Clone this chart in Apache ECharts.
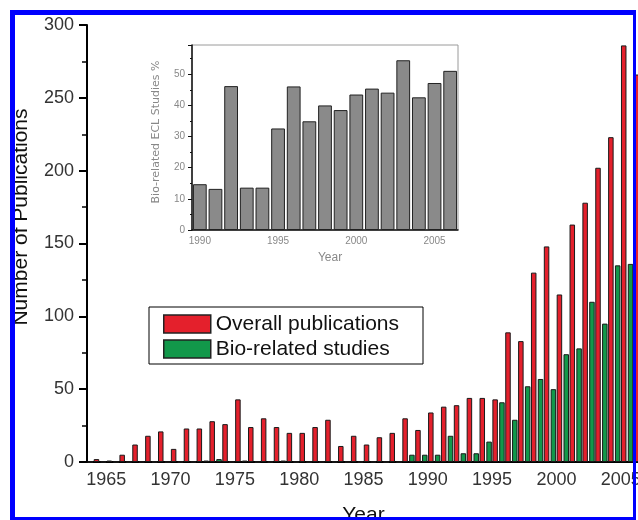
<!DOCTYPE html>
<html>
<head>
<meta charset="utf-8">
<script src="https://cdn.jsdelivr.net/npm/echarts@6/dist/echarts.min.js"></script>
<style>
  html, body { margin: 0; padding: 0; background: #fff; }
  #chart { width: 638px; height: 520px; }
</style>
</head>
<body>
<div id="chart"></div>
<script>
// Publication years on the main chart
const years = ['1964','1965','1966','1967','1968','1969','1970','1971','1972','1973','1974',
  '1975','1976','1977','1978','1979','1980','1981','1982','1983','1984','1985','1986','1987',
  '1988','1989','1990','1991','1992','1993','1994','1995','1996','1997','1998','1999','2000',
  '2001','2002','2003','2004','2005','2006'];

// Yearly counts of ECL publications
const overallPubs = [2, 1, 5, 12, 18, 21, 9, 23, 23, 28, 26,
  43, 24, 30, 24, 20, 20, 24, 29, 11, 18, 12, 17, 20,
  30, 22, 34, 38, 39, 44, 44, 43, 89, 83, 130, 148, 115,
  163, 178, 202, 223, 286, 266];

// Yearly counts of bio-related ECL studies
const bioPubs = [0, 0, 0, 0, 0, 0, 0, 0, 0, 1, 2,
  0, 1, 0, 0, 1, 0, 0, 0, 0, 0, 0, 0, 0,
  0, 5, 5, 5, 18, 6, 6, 14, 41, 29, 52, 57, 50,
  74, 78, 110, 95, 135, 136];

// Inset: share of bio-related studies, 1990-2006
const insetYears = ['1990','1991','1992','1993','1994','1995','1996','1997','1998',
  '1999','2000','2001','2002','2003','2004','2005','2006'];
const bioShare = [14.7, 13.2, 46.2, 13.6, 13.6, 32.6, 46.1, 34.9, 40.0,
  38.5, 43.5, 45.4, 44.1, 54.5, 42.6, 47.2, 51.1];

const mainYTicks = { min: 0, max: 300, step: 50 };
const insetYTicks = { min: 0, max: 59.4, step: 10 };

const FONT = "'Liberation Sans', Arial, Helvetica, sans-serif";
const isMajor = (i, v) => (+v) % 5 === 0;
const isMinorEdge = (i, v) => (+v) % 5 === 3; // left edge of this category = x.5 year

const chart = echarts.init(document.getElementById('chart'), null, { renderer: 'canvas' });

chart.setOption({
  animation: false,
  backgroundColor: '#fff',
  grid: [
    { left: 87, top: 25, width: 553, height: 437, outerBoundsMode: 'none' },
    { left: 192, top: 45, width: 266, height: 185, outerBoundsMode: 'none', show: true,
      borderColor: '#9a9a9a', borderWidth: 1, backgroundColor: '#fff' }
  ],
  legend: {
    data: ['Overall publications', 'Bio-related studies'],
    orient: 'vertical',
    left: 149, top: 307,
    padding: [6.5, 24, 4.5, 14],
    itemWidth: 47, itemHeight: 18, itemGap: 4,
    icon: 'rect',
    borderColor: '#000', borderWidth: 1, backgroundColor: '#fff',
    itemStyle: { borderColor: '#222', borderWidth: 1.5 },
    textStyle: { fontSize: 21, color: '#111', fontFamily: FONT, lineHeight: 21 }
  },
  xAxis: [
    { // main axis: labels and major ticks
      type: 'category', gridIndex: 0, data: years,
      axisLine: { lineStyle: { color: '#000', width: 2 } },
      axisTick: { alignWithLabel: true, interval: isMajor, length: 9,
                  lineStyle: { color: '#000', width: 2 } },
      axisLabel: { interval: isMajor, fontSize: 18, color: '#333', margin: 9, fontFamily: FONT },
      name: 'Year', nameLocation: 'middle', nameGap: 43,
      nameTextStyle: { fontSize: 21, color: '#111', fontFamily: FONT }
    },
    { // main axis: minor ticks at half-way years
      type: 'category', gridIndex: 0, data: years, position: 'bottom',
      axisLine: { show: false },
      axisTick: { interval: isMinorEdge, length: 4, lineStyle: { color: '#000', width: 1.5 } },
      axisLabel: { show: false }
    },
    { // inset axis: labels and major ticks
      type: 'category', gridIndex: 1, data: insetYears,
      axisLine: { lineStyle: { color: '#111', width: 1.5 } },
      axisTick: { alignWithLabel: true, interval: isMajor, length: 5,
                  lineStyle: { color: '#111', width: 1 } },
      axisLabel: { interval: isMajor, fontSize: 10, color: '#888', margin: 6, fontFamily: FONT }
    },
    { // inset axis: minor ticks
      type: 'category', gridIndex: 1, data: insetYears, position: 'bottom',
      axisLine: { show: false },
      axisTick: { interval: isMinorEdge, length: 3, lineStyle: { color: '#111', width: 1 } },
      axisLabel: { show: false }
    }
  ],
  yAxis: [
    {
      type: 'value', gridIndex: 0,
      min: mainYTicks.min, max: mainYTicks.max, interval: mainYTicks.step,
      axisLine: { show: true, lineStyle: { color: '#000', width: 2 } },
      axisTick: { show: true, length: 8, lineStyle: { color: '#000', width: 2 } },
      minorTick: { show: true, splitNumber: 2, length: 5, lineStyle: { color: '#000', width: 1.5 } },
      splitLine: { show: false },
      axisLabel: { fontSize: 18, color: '#333', margin: 13, fontFamily: FONT }
    },
    {
      type: 'value', gridIndex: 1,
      min: insetYTicks.min, max: insetYTicks.max, interval: insetYTicks.step,
      axisLine: { show: true, lineStyle: { color: '#111', width: 1.5 } },
      axisTick: { show: true, length: 4, lineStyle: { color: '#111', width: 1 } },
      minorTick: { show: true, splitNumber: 2, length: 2, lineStyle: { color: '#111', width: 1 } },
      splitLine: { show: false },
      axisLabel: { fontSize: 10, color: '#888', margin: 7, fontFamily: FONT, showMaxLabel: false }
    }
  ],
  series: [
    {
      name: 'Bio-related studies', type: 'bar', xAxisIndex: 0, yAxisIndex: 0,
      data: bioPubs, barWidth: 5.5, barGap: '10%',
      itemStyle: { color: '#12984a', borderColor: '#1a1a1a', borderWidth: 1 }
    },
    {
      name: 'Overall publications', type: 'bar', xAxisIndex: 0, yAxisIndex: 0,
      data: overallPubs, barWidth: 5.5, barGap: '10%',
      itemStyle: { color: '#e4202c', borderColor: '#1a1a1a', borderWidth: 1 }
    },
    {
      name: 'Bio-related ECL Studies %', type: 'bar', xAxisIndex: 2, yAxisIndex: 1,
      data: bioShare, barCategoryGap: '12%',
      itemStyle: { color: '#8a8a8a', borderColor: '#222', borderWidth: 1 }
    }
  ],
  graphic: [
    { type: 'text', x: 21, y: 217, rotation: Math.PI / 2, z: 10,
      style: { text: 'Number of Publications', fill: '#111', font: '21px ' + FONT,
               align: 'center', verticalAlign: 'middle' } },
    { type: 'text', x: 156, y: 132, rotation: Math.PI / 2, z: 10,
      style: { text: 'Bio-related ECL Studies %', fill: '#888', font: "11px 'DejaVu Sans', sans-serif",
               align: 'center', verticalAlign: 'middle' } },
    { type: 'text', x: 330, y: 257.5, z: 10,
      style: { text: 'Year', fill: '#888', font: '12px ' + FONT,
               align: 'center', verticalAlign: 'middle' } },
    // blue frame
    { type: 'rect', z: 100, shape: { x: 10, y: 10, width: 626, height: 5 }, style: { fill: '#0000fe' } },
    { type: 'rect', z: 100, shape: { x: 10, y: 10, width: 5, height: 510 }, style: { fill: '#0000fe' } },
    { type: 'rect', z: 100, shape: { x: 633, y: 10, width: 3, height: 510 }, style: { fill: '#0000fe' } },
    { type: 'rect', z: 100, shape: { x: 10, y: 517, width: 626, height: 3 }, style: { fill: '#0000fe' } }
  ]
});
</script>
</body>
</html>
